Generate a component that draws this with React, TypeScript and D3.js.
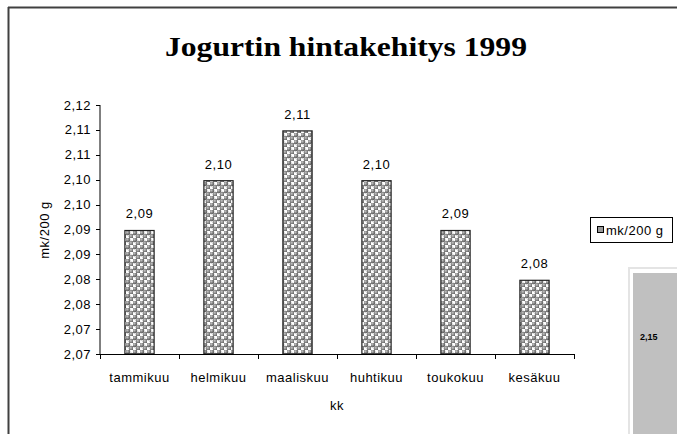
import React from "react";
import * as d3 from "d3";

const categories = ["tammikuu", "helmikuu", "maaliskuu", "huhtikuu", "toukokuu", "kesäkuu"];
const prices = [2.0948, 2.1048, 2.1148, 2.1048, 2.0948, 2.0848];
const yTickValues = [2.07, 2.075, 2.08, 2.085, 2.09, 2.095, 2.1, 2.105, 2.11, 2.115, 2.12];
const yTickLabels = ["2,07", "2,07", "2,08", "2,08", "2,09", "2,09", "2,10", "2,10", "2,11", "2,11", "2,12"];
const title = "Jogurtin hintakehitys 1999";
const seriesName = "mk/200 g";
const xTitle = "kk";
const sideLabel = "2,15";

const W = 677;
const H = 434;
const plot = { left: 100, right: 574, top: 105, bottom: 354 };
const sans = "Arial, 'Liberation Sans', sans-serif";
const fs = 13;
const ls = 0.5;

export default function App() {
  const x = d3.scaleBand<string>().domain(categories).range([plot.left, plot.right]).paddingInner(0.63).paddingOuter(0.315);
  const xb = d3.scaleBand<string>().domain(categories).range([plot.left, plot.right]);
  const y = d3.scaleLinear().domain([2.07, 2.12]).range([plot.bottom, plot.top]);
  const fmt = (v: number) => v.toFixed(2).replace(".", ",");

  return (
    <svg width={W} height={H} style={{ position: "absolute", left: 0, top: 0, background: "#fff" }}>
      <defs>
        <radialGradient id="ball" cx="0.4" cy="0.4" r="0.6">
          <stop offset="0" stopColor="#c8c8c8" />
          <stop offset="0.5" stopColor="#8a8a8a" />
          <stop offset="1" stopColor="#5a5a5a" />
        </radialGradient>
        <pattern id="spheres" width="7" height="7" patternUnits="userSpaceOnUse">
          <rect width="7" height="7" fill="#ffffff" />
          <circle cx="1.75" cy="1.75" r="2.5" fill="url(#ball)" />
          <circle cx="5.25" cy="5.25" r="2.5" fill="url(#ball)" />
          <circle cx="8.75" cy="-1.75" r="2.5" fill="url(#ball)" />
          <circle cx="-1.75" cy="8.75" r="2.5" fill="url(#ball)" />
        </pattern>
      </defs>

      {/* frame */}
      <line x1={8.5} y1={7} x2={8.5} y2={H} stroke="#404040" strokeWidth={2} />
      <line x1={8} y1={7.5} x2={W} y2={7.5} stroke="#404040" strokeWidth={2} />

      {/* title */}
      <text x={346} y={56} textAnchor="middle" fontFamily="'Liberation Serif', 'Times New Roman', serif" fontWeight="bold" fontSize={27} textLength={362} lengthAdjust="spacingAndGlyphs" fill="#000">
        {title}
      </text>

      {/* bars */}
      {categories.map((c, i) => (
        <g key={c}>
          <rect
            x={x(c)!}
            y={y(prices[i])}
            width={x.bandwidth()}
            height={plot.bottom - y(prices[i])}
            fill="url(#spheres)"
            stroke="#222"
            strokeWidth={1.2}
          />
          <text x={x(c)! + x.bandwidth() / 2} y={y(prices[i]) - 12} textAnchor="middle" fontFamily={sans} fontSize={fs} letterSpacing={ls} fill="#000">
            {fmt(prices[i])}
          </text>
          <text x={xb(c)! + xb.bandwidth() / 2} y={382} textAnchor="middle" fontFamily={sans} fontSize={fs} letterSpacing={ls} fill="#000">
            {c}
          </text>
        </g>
      ))}

      {/* y axis */}
      <line x1={plot.left} y1={plot.top} x2={plot.left} y2={plot.bottom} stroke="#000" strokeWidth={1} />
      {yTickValues.map((v, i) => (
        <g key={i}>
          <line x1={plot.left - 4} x2={plot.left} y1={Math.round(y(v)) + 0.5} y2={Math.round(y(v)) + 0.5} stroke="#000" />
          <text x={plot.left - 9} y={y(v) + 4.5} textAnchor="end" fontFamily={sans} fontSize={fs} letterSpacing={ls} fill="#000">
            {yTickLabels[i]}
          </text>
        </g>
      ))}

      {/* x axis */}
      <line x1={plot.left} y1={plot.bottom + 0.5} x2={plot.right} y2={plot.bottom + 0.5} stroke="#000" strokeWidth={1} />
      {[...categories.map((c) => xb(c)!), plot.right].map((px, i) => (
        <line key={i} x1={Math.round(px) + 0.5} x2={Math.round(px) + 0.5} y1={plot.bottom} y2={plot.bottom + 5} stroke="#000" />
      ))}

      {/* axis titles */}
      <text x={337} y={410} textAnchor="middle" fontFamily={sans} fontSize={fs} letterSpacing={ls} fill="#000">
        {xTitle}
      </text>
      <text transform="translate(49,230) rotate(-90)" textAnchor="middle" fontFamily={sans} fontSize={fs} letterSpacing={ls} fill="#000">
        {seriesName}
      </text>

      {/* legend */}
      <rect x={590.5} y={217.5} width={82} height={25} fill="#fff" stroke="#000" strokeWidth={1} />
      <rect x={597.5} y={226.5} width={6} height={6} fill="#999" stroke="#000" strokeWidth={1} />
      <text x={606} y={234.5} fontFamily={sans} fontSize={fs} letterSpacing={ls} fill="#000">
        {seriesName}
      </text>

      {/* side panel */}
      <rect x={628} y={267} width={W - 628} height={H - 267} fill="#e4e4e4" />
      <rect x={630} y={269} width={W - 630} height={H - 269} fill="#fff" />
      <rect x={633} y={273} width={W - 633} height={H - 273} fill="#c0c0c0" />
      <text x={640} y={340} fontFamily={sans} fontSize={9} fontWeight="bold" fill="#000">
        {sideLabel}
      </text>
    </svg>
  );
}
